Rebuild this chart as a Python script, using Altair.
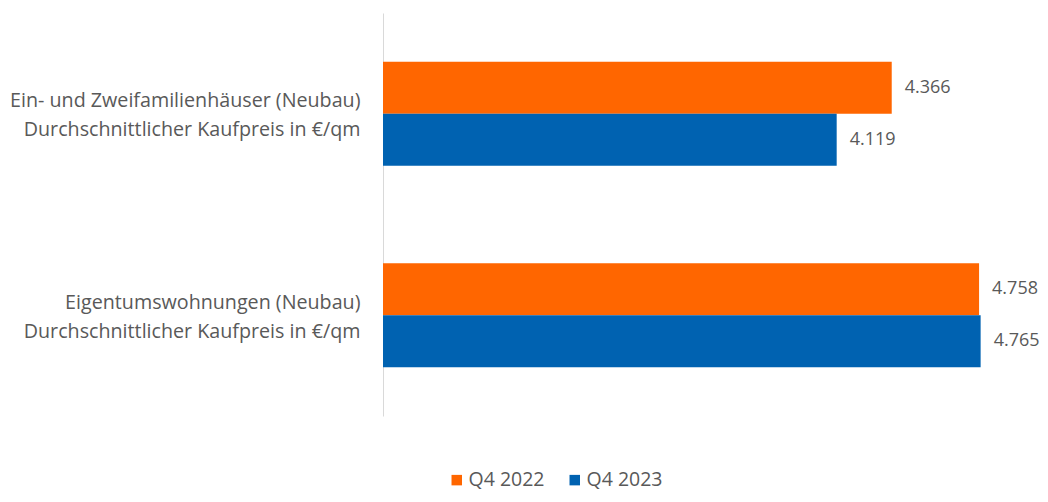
import altair as alt
import pandas as pd

categories = [
    "Ein- und Zweifamilienhäuser (Neubau)|Durchschnittlicher Kaufpreis in €/qm",
    "Eigentumswohnungen (Neubau)|Durchschnittlicher Kaufpreis in €/qm",
]
series = ["Q4 2022", "Q4 2023"]
values_2022 = [4366, 4758]
values_2023 = [4119, 4765]

rows = []
for c, v1, v2 in zip(categories, values_2022, values_2023):
    rows.append({"cat": c, "series": series[0], "value": v1})
    rows.append({"cat": c, "series": series[1], "value": v2})
df = pd.DataFrame(rows)
df["label"] = df["value"].map(lambda v: f"{v:,}".replace(",", "."))

XMIN = 2083
FONT = "Open Sans"
GRAY = "#595959"

y_enc = alt.Y(
    "cat:N",
    sort=categories,
    title=None,
    scale=alt.Scale(paddingInner=0, paddingOuter=0),
    axis=alt.Axis(
        labelExpr="split(datum.label, '|')",
        labelFontSize=19.7,
        labelFont=FONT,
        labelColor=GRAY,
        labelLineHeight=29,
        labelPadding=23,
        labelLimit=400,
        labelOffset=-12.5,
        ticks=False,
        domainColor="#d9d9d9",
        domainWidth=1,
        labelAlign="right",
    ),
)
yoff = alt.YOffset(
    "series:N",
    sort=series,
    scale=alt.Scale(paddingInner=0, paddingOuter=0.9375),
)
x_scale = alt.Scale(domain=[XMIN, 5000], zero=False, nice=False)

bars = alt.Chart(df).mark_bar().encode(
    x=alt.X("value:Q", scale=x_scale, axis=None),
    x2=alt.datum(XMIN),
    y=y_enc,
    yOffset=yoff,
    color=alt.Color(
        "series:N",
        sort=series,
        scale=alt.Scale(domain=series, range=["#FF6600", "#0062B1"]),
        legend=alt.Legend(
            title=None,
            orient="none",
            direction="horizontal",
            legendX=64,
            legendY=457,
            symbolType="square",
            symbolSize=110,
            symbolStrokeWidth=0,
            labelFontSize=19.5,
            labelFont=FONT,
            labelColor=GRAY,
            labelOffset=2,
            columnPadding=20,
            padding=0,
        ),
    ),
)

text = alt.Chart(df).mark_text(
    align="left", baseline="middle", dx=13, fontSize=18, font=FONT, color=GRAY
).encode(
    x=alt.X("value:Q", scale=x_scale, axis=None),
    y=alt.Y("cat:N", sort=categories),
    yOffset=alt.YOffset("series:N", sort=series),
    text="label:N",
)

chart = (
    alt.layer(bars, text)
    .properties(
        width=650,
        height=403,
        autosize=alt.AutoSizeParams(type="none"),
        padding={"left": 375, "top": 5, "right": 7, "bottom": 78},
    )
    .configure(background="white")
    .configure_view(strokeWidth=0, stroke="transparent")
)

chart.save("out.html", embed_options={"renderer": "svg", "actions": False})
